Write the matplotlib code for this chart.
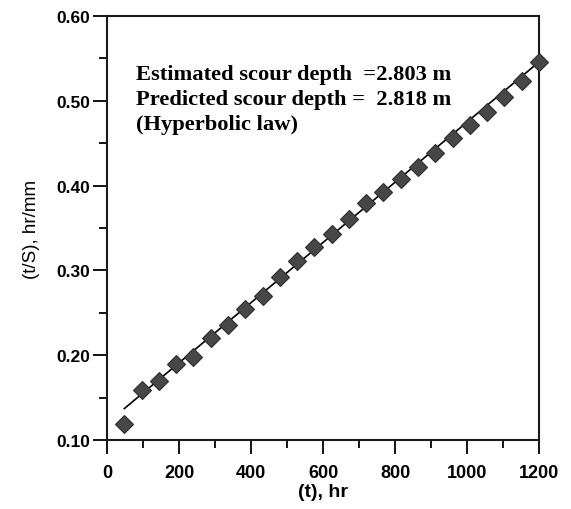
import numpy as np
import matplotlib.pyplot as plt
from matplotlib.ticker import MultipleLocator, FormatStrFormatter

# elapsed time (hr) and t/S (hr/mm)
t_hr = [48, 96, 144, 192, 240, 288, 336, 384, 432, 480, 528, 576, 624,
        672, 720, 768, 816, 864, 912, 960, 1008, 1056, 1104, 1152, 1200]
t_over_s = [0.119, 0.159, 0.169, 0.190, 0.198, 0.220, 0.236, 0.255, 0.270,
            0.292, 0.311, 0.328, 0.343, 0.361, 0.380, 0.393, 0.408, 0.422,
            0.439, 0.456, 0.472, 0.487, 0.505, 0.523, 0.546]

# hyperbolic law t/S = a + t/S_max (S_max in mm)
a_fit = 0.120
s_max_mm = 2818.0

notes = ["Estimated scour depth  =2.803 m",
         "Predicted scour depth =  2.818 m",
         "(Hyperbolic law)"]

fig = plt.figure(figsize=(5.71, 5.10), dpi=100)
ax = fig.add_axes([0.1874, 0.1353, 0.7566, 0.8314])

t_line = np.array([t_hr[0], t_hr[-1]])
ax.plot(t_line, a_fit + t_line / s_max_mm, color='black', lw=1.2, zorder=2)
ax.plot(t_hr, t_over_s, linestyle='none', marker='D', markersize=9,
        markerfacecolor='#474747', markeredgecolor='#2e2e2e',
        markeredgewidth=0.8, zorder=3, clip_on=False)

ax.set_xlim(0, 1200)
ax.set_ylim(0.10, 0.60)
ax.xaxis.set_major_locator(MultipleLocator(200))
ax.xaxis.set_minor_locator(MultipleLocator(100))
ax.yaxis.set_major_locator(MultipleLocator(0.10))
ax.yaxis.set_minor_locator(MultipleLocator(0.05))
ax.yaxis.set_major_formatter(FormatStrFormatter('%.2f'))

ax.tick_params(which='major', direction='out', length=10, width=1.3,
               top=False, right=False)
ax.tick_params(which='minor', direction='out', length=6, width=1.3,
               top=False, right=False)
ax.tick_params(axis='y', which='major', pad=2)
ax.tick_params(axis='x', which='major', pad=7)
for lab in ax.get_xticklabels():
    lab.set_fontfamily('Liberation Sans')
    lab.set_fontweight('bold')
    lab.set_fontsize(13)
for lab in ax.get_yticklabels():
    lab.set_fontfamily('Liberation Sans')
    lab.set_fontweight('bold')
    lab.set_fontsize(12.5)

for sp in ax.spines.values():
    sp.set_linewidth(1.5)
    sp.set_color('#1a1a1a')

ax.set_xlabel('(t), hr', fontfamily='Liberation Sans', fontweight='bold',
              fontsize=14, labelpad=2)
ax.set_ylabel('(t/S), hr/mm', fontfamily='Liberation Sans', fontsize=13.5,
              labelpad=12)

for i, txt in enumerate(notes):
    ax.text(0.067, 0.862 - i * 0.058, txt, transform=ax.transAxes,
            fontfamily='Liberation Serif', fontweight='bold', fontsize=16.2,
            va='center', ha='left')

fig.savefig('out.png', dpi=100)
